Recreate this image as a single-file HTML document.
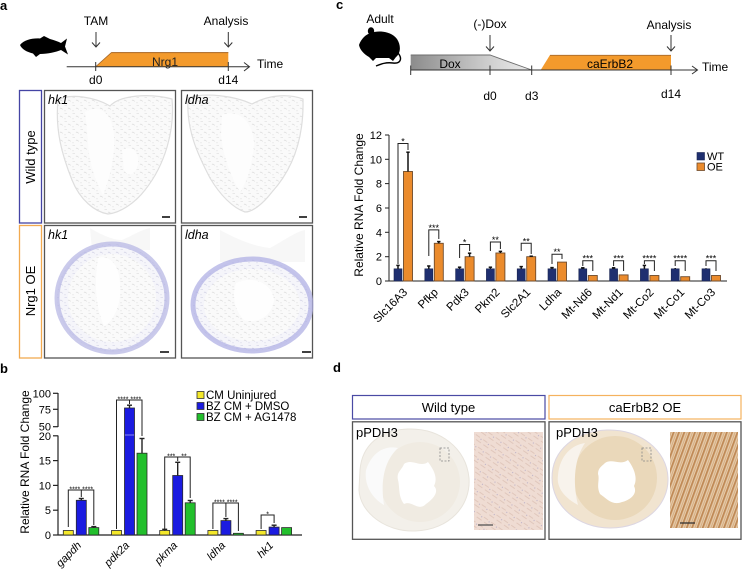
<!DOCTYPE html>
<html><head><meta charset="utf-8"><style>
html,body{margin:0;padding:0;background:#fff;}
svg{display:block;}
text{font-family:"Liberation Sans",Arial,sans-serif;}
</style></head><body>
<svg width="742" height="573" viewBox="0 0 742 573" xmlns="http://www.w3.org/2000/svg">
<defs>
<pattern id="tex" width="8" height="8" patternUnits="userSpaceOnUse">
<rect width="8" height="8" fill="#fafafa"/>
<path d="M0.5,1.5 h2.5 M4,4.5 c1,-1 2,0 2.5,1 M1,6 v1.2" stroke="#d6d6d6" stroke-width="0.6" fill="none"/>
</pattern>
<pattern id="texp" width="8" height="8" patternUnits="userSpaceOnUse">
<rect width="8" height="8" fill="#f5f5fa"/>
<path d="M0.5,1.5 h2.5 M4,4.5 c1,-1 2,0 2.5,1 M1,6 v1.2" stroke="#cbcbe0" stroke-width="0.6" fill="none"/>
</pattern>
<pattern id="pink" width="9" height="9" patternUnits="userSpaceOnUse" patternTransform="rotate(35)">
<rect width="9" height="9" fill="#efdcd3"/>
<path d="M0,2 h5 M3,6 h6" stroke="#dcc0b5" stroke-width="0.8"/>
<circle cx="7" cy="3" r="0.6" fill="#bbb0c8"/>
</pattern>
<pattern id="brown" width="5" height="10" patternUnits="userSpaceOnUse" patternTransform="rotate(20)">
<rect width="5" height="10" fill="#e6cbab"/>
<rect x="0" width="1.8" height="10" fill="#bf8955"/>
<rect x="3.2" width="0.8" height="10" fill="#d3a878"/>
</pattern>
<linearGradient id="doxg" x1="0" x2="1" y1="0" y2="0">
<stop offset="0" stop-color="#8c8c8c"/><stop offset="0.65" stop-color="#cfcfcf"/><stop offset="1" stop-color="#ededed"/>
</linearGradient>
</defs>

<!-- ================= Panel a ================= -->
<text x="0" y="10" font-size="13" font-weight="bold">a</text>
<path d="M20,45 C24,40 32,38 40,38.5 L44,36 L50,39 C54,40 58,41.5 61,43 L67,38.5 L65,46.5 L68,54.5 L61,50 C56,52 48,54 40,54 L36,57 L33,53.5 C27,52 22,49.5 20,45 Z" fill="#000"/>
<polygon points="95.7,66.7 111.7,52.3 228.3,52.3 228.3,66.7" fill="#f39a2c"/>
<line x1="111.7" y1="52.6" x2="228.3" y2="52.6" stroke="#a8692a" stroke-width="1"/>
<line x1="111.7" y1="52.3" x2="95.7" y2="66.7" stroke="#a8692a" stroke-width="0.8"/>
<text x="165" y="66" font-size="12" text-anchor="middle" fill="#222">Nrg1</text>
<line x1="66.7" y1="66.7" x2="249" y2="66.7" stroke="#333" stroke-width="1"/>
<polyline points="244,62.5 249.5,66.7 244,71" fill="none" stroke="#333" stroke-width="1"/>
<line x1="95.7" y1="62" x2="95.7" y2="71" stroke="#333" stroke-width="1"/>
<line x1="228.3" y1="62" x2="228.3" y2="71" stroke="#333" stroke-width="1"/>
<text x="257" y="68" font-size="12">Time</text>
<text x="95.7" y="84" font-size="12" text-anchor="middle">d0</text>
<text x="228.3" y="84" font-size="12" text-anchor="middle">d14</text>
<text x="96" y="25" font-size="12" text-anchor="middle">TAM</text>
<text x="226" y="25" font-size="12" text-anchor="middle">Analysis</text>
<g stroke="#333" stroke-width="1" fill="none">
<line x1="96" y1="32" x2="96" y2="47"/><polyline points="92,42.5 96,47 100,42.5"/>
<line x1="228.3" y1="32" x2="228.3" y2="47"/><polyline points="224.3,42.5 228.3,47 232.3,42.5"/>
</g>

<rect x="19.5" y="90.5" width="22" height="132.5" fill="#fff" stroke="#4444a4" stroke-width="1.3"/>
<text transform="translate(35,157) rotate(-90)" font-size="13" text-anchor="middle">Wild type</text>
<rect x="19.5" y="225.5" width="22" height="132.5" fill="#fff" stroke="#f2aa50" stroke-width="1.3"/>
<text transform="translate(35,291) rotate(-90)" font-size="13" text-anchor="middle">Nrg1 OE</text>

<rect x="44.5" y="90.5" width="131" height="132.5" fill="#fff" stroke="#555" stroke-width="1.3"/>
<rect x="181.5" y="90.5" width="131" height="132.5" fill="#fff" stroke="#555" stroke-width="1.3"/>
<rect x="44.5" y="225.5" width="131" height="132.5" fill="#fff" stroke="#555" stroke-width="1.3"/>
<rect x="181.5" y="225.5" width="131" height="132.5" fill="#fff" stroke="#555" stroke-width="1.3"/>

<!-- WT hk1 heart -->
<path d="M58,100 C70,93 95,97 110,106 C120,95 150,93 172,99 C175,130 165,165 145,190 C135,203 120,213 108,214 C95,212 80,200 72,180 C62,155 55,130 58,100 Z" fill="url(#tex)" stroke="#dedede" stroke-width="1.2"/>
<path d="M85,112 C98,104 110,112 113,128 C117,150 110,178 103,195 C95,180 88,160 88,140 Z" fill="#fdfdfd"/>
<path d="M122,150 C130,145 140,150 138,165 C135,175 128,178 124,170 Z" fill="#fdfdfd"/>
<!-- WT ldha heart -->
<path d="M188,98 C205,92 235,96 252,104 C270,94 290,94 303,99 C304,140 292,170 272,192 C262,205 252,212 245,212 C233,208 220,195 210,178 C198,155 186,130 188,98 Z" fill="url(#tex)" stroke="#dedede" stroke-width="1.2"/>
<path d="M222,115 C238,108 254,122 254,145 C252,165 247,182 240,192 C230,175 223,155 221,135 Z" fill="#fdfdfd"/>
<!-- OE hk1 -->
<path d="M90,228 C100,234 112,240 122,240 C132,236 140,230 150,228 L150,250 L92,250 Z" fill="#f7f7f7"/>
<ellipse cx="112" cy="298" rx="55" ry="54" fill="url(#texp)" stroke="#b4b4e2" stroke-width="5" stroke-opacity="0.7"/>
<ellipse cx="112" cy="298" rx="44" ry="44" fill="url(#tex)"/>
<path d="M98,258 C110,254 120,266 120,285 C122,302 114,322 104,326 C96,308 94,285 98,258 Z" fill="#fefefe"/>
<!-- OE ldha -->
<path d="M220,230 C235,238 252,246 270,248 C285,240 295,232 305,230 L305,262 L220,262 Z" fill="#f7f7f7"/>
<ellipse cx="252" cy="305" rx="59" ry="46" fill="url(#texp)" stroke="#b0b0e4" stroke-width="5" stroke-opacity="0.75"/>
<ellipse cx="252" cy="305" rx="48" ry="36" fill="url(#tex)"/>
<path d="M236,283 C253,275 272,283 274,300 C272,316 258,324 244,320 C234,310 232,294 236,283 Z" fill="#fefefe"/>

<text x="48" y="104" font-size="12.5" font-style="italic">hk1</text>
<text x="185" y="104" font-size="12.5" font-style="italic">ldha</text>
<text x="48" y="239" font-size="12.5" font-style="italic">hk1</text>
<text x="185" y="239" font-size="12.5" font-style="italic">ldha</text>
<g stroke="#111" stroke-width="1.6">
<line x1="162" y1="217" x2="170" y2="217"/>
<line x1="299" y1="217" x2="307" y2="217"/>
<line x1="160" y1="352" x2="169" y2="352"/>
<line x1="302" y1="352" x2="311" y2="352"/>
</g>

<!-- ================= Panel b ================= -->
<text x="0" y="373" font-size="13" font-weight="bold">b</text>
<text transform="translate(29,462) rotate(-90)" font-size="12" text-anchor="middle">Relative RNA Fold Change</text>
<g stroke="#222" stroke-width="1.2" fill="none">
<line x1="58" y1="393" x2="58" y2="427"/>
<line x1="58" y1="435.5" x2="58" y2="535"/>
<line x1="58" y1="535" x2="302" y2="535"/>
<line x1="53" y1="393.3" x2="58" y2="393.3"/>
<line x1="53" y1="409.3" x2="58" y2="409.3"/>
<line x1="53" y1="426.7" x2="58" y2="426.7"/>
<line x1="53" y1="435.8" x2="58" y2="435.8"/>
<line x1="53" y1="460.6" x2="58" y2="460.6"/>
<line x1="53" y1="485.4" x2="58" y2="485.4"/>
<line x1="53" y1="510.2" x2="58" y2="510.2"/>
<line x1="53" y1="535" x2="58" y2="535"/>
</g>
<g font-size="11" text-anchor="end">
<text x="51" y="397.3">100</text>
<text x="51" y="413.3">75</text>
<text x="51" y="430.7">50</text>
<text x="51" y="439.8">20</text>
<text x="51" y="464.6">15</text>
<text x="51" y="489.4">10</text>
<text x="51" y="514.2">5</text>
<text x="51" y="539">0</text>
</g>
<g stroke="#2a2a2a" stroke-width="0.8">
<rect x="63.3" y="530.5" width="10" height="4.5" fill="#f4e82a"/>
<rect x="76.3" y="500.3" width="10" height="34.7" fill="#1b1be0"/>
<rect x="88.8" y="527.6" width="10" height="7.4" fill="#22bf2c"/>
<rect x="111.5" y="530.5" width="10" height="4.5" fill="#f4e82a"/>
<rect x="124.5" y="408" width="10" height="127" fill="#1b1be0"/>
<rect x="137" y="453.2" width="10" height="81.8" fill="#22bf2c"/>
<rect x="159.7" y="530.5" width="10" height="4.5" fill="#f4e82a"/>
<rect x="172.7" y="475.5" width="10" height="59.5" fill="#1b1be0"/>
<rect x="185.2" y="502.8" width="10" height="32.2" fill="#22bf2c"/>
<rect x="207.9" y="530.5" width="10" height="4.5" fill="#f4e82a"/>
<rect x="220.9" y="520.6" width="10" height="14.4" fill="#1b1be0"/>
<rect x="233.4" y="533.3" width="10" height="1.7" fill="#22bf2c"/>
<rect x="256.1" y="530.5" width="10" height="4.5" fill="#f4e82a"/>
<rect x="269.1" y="527.1" width="10" height="7.9" fill="#1b1be0"/>
<rect x="281.6" y="527.6" width="10" height="7.4" fill="#22bf2c"/>
</g>
<line x1="124.9" y1="435" x2="134.1" y2="435" stroke="#8a8af0" stroke-width="1"/>
<g stroke="#222" stroke-width="1.4">
<line x1="81.3" y1="500.3" x2="81.3" y2="498.3"/><line x1="78.8" y1="498.5" x2="83.8" y2="498.5"/>
<line x1="93.8" y1="527.6" x2="93.8" y2="526.5"/><line x1="91.3" y1="526.6" x2="96.3" y2="526.6"/>
<line x1="129.5" y1="408" x2="129.5" y2="405"/><line x1="127" y1="405.2" x2="132" y2="405.2"/>
<line x1="142" y1="453.2" x2="142" y2="438.3"/><line x1="139.5" y1="438.5" x2="144.5" y2="438.5"/>
<line x1="164.7" y1="530.5" x2="164.7" y2="529.2"/><line x1="162.2" y1="529.3" x2="167.2" y2="529.3"/>
<line x1="177.7" y1="475.5" x2="177.7" y2="462.1"/><line x1="175.2" y1="462.3" x2="180.2" y2="462.3"/>
<line x1="190.2" y1="502.8" x2="190.2" y2="500.3"/><line x1="187.7" y1="500.5" x2="192.7" y2="500.5"/>
<line x1="225.9" y1="520.6" x2="225.9" y2="518.4"/><line x1="223.4" y1="518.6" x2="228.4" y2="518.6"/>
<line x1="274.1" y1="527.1" x2="274.1" y2="525"/><line x1="271.6" y1="525.2" x2="276.6" y2="525.2"/>
</g>
<g stroke="#222" stroke-width="1" fill="none">
<path d="M68.3,527 V490 H93.8 V525 M81.3,490 V497"/>
<path d="M116.5,529 V400 H142 V436 M129.5,400 V404"/>
<path d="M164.7,529 V457 H190.2 V498 M177.7,457 V461"/>
<path d="M212.9,529 V503 H238.4 V531 M225.9,503 V517"/>
<path d="M261.1,529 V515 H274.1 V523"/>
</g>
<g font-size="7" text-anchor="middle">
<text x="74.8" y="491.5">****</text><text x="87.6" y="491.5">****</text>
<text x="123" y="401.5">****</text><text x="135.8" y="401.5">****</text>
<text x="171.2" y="458.5">***</text><text x="184" y="458.5">**</text>
<text x="219.4" y="504.5">****</text><text x="232.2" y="504.5">****</text>
<text x="267.6" y="516.5">*</text>
</g>
<g font-size="11" font-style="italic" text-anchor="end">
<text transform="translate(82,546) rotate(-45)">gapdh</text>
<text transform="translate(130,546) rotate(-45)">pdk2a</text>
<text transform="translate(178,546) rotate(-45)">pkma</text>
<text transform="translate(226,546) rotate(-45)">ldha</text>
<text transform="translate(274,546) rotate(-45)">hk1</text>
</g>
<g stroke="#333" stroke-width="0.8">
<rect x="197" y="391.5" width="7" height="7" fill="#f4e82a"/>
<rect x="197" y="402.5" width="7" height="7" fill="#1b1be0"/>
<rect x="197" y="413.5" width="7" height="7" fill="#22bf2c"/>
</g>
<g font-size="11.5">
<text x="206" y="399">CM Uninjured</text>
<text x="206" y="410">BZ CM + DMSO</text>
<text x="206" y="421">BZ CM + AG1478</text>
</g>

<!-- ================= Panel c ================= -->
<text x="336" y="9" font-size="13" font-weight="bold">c</text>
<text x="380" y="23" font-size="12" text-anchor="middle">Adult</text>
<path d="M359,45 C361,39 366,34 371,33 C378,30 391,31 397,39 C401,45 401,53 396,57 L393,61 L389,58 L376,58 L373,61 L369,57 C364,54 360,50 359,45 Z" fill="#000"/>
<ellipse cx="371" cy="31" rx="3.2" ry="3.8" fill="#000"/>
<path d="M397,52 C403,58 401,64 393,63 C386,62 381,64 376,66" fill="none" stroke="#000" stroke-width="1.4"/>
<polygon points="410.7,55 490,55 531.7,70 410.7,70" fill="url(#doxg)"/>
<polyline points="410.7,55 490,55 531.7,70" fill="none" stroke="#6e6e6e" stroke-width="0.9"/>
<text x="450" y="68" font-size="12" text-anchor="middle">Dox</text>
<polygon points="540.7,70 550,55 671,55 671,70" fill="#f39a2c"/>
<line x1="550" y1="55.3" x2="671" y2="55.3" stroke="#a8692a" stroke-width="0.9"/>
<text x="610" y="68" font-size="12" text-anchor="middle">caErbB2</text>
<line x1="410.7" y1="70" x2="697" y2="70" stroke="#333" stroke-width="1"/>
<polyline points="692,66 697.5,70 692,74" fill="none" stroke="#333" stroke-width="1"/>
<g stroke="#333" stroke-width="1">
<line x1="410.7" y1="65.5" x2="410.7" y2="75"/>
<line x1="490" y1="65.5" x2="490" y2="75"/>
<line x1="531.7" y1="65.5" x2="531.7" y2="75"/>
<line x1="671" y1="65.5" x2="671" y2="75"/>
</g>
<text x="702" y="71" font-size="12">Time</text>
<text x="490" y="100" font-size="12" text-anchor="middle">d0</text>
<text x="531.7" y="100" font-size="12" text-anchor="middle">d3</text>
<text x="671" y="98" font-size="12" text-anchor="middle">d14</text>
<text x="490" y="28" font-size="12" text-anchor="middle">(-)Dox</text>
<text x="669" y="29" font-size="12" text-anchor="middle">Analysis</text>
<g stroke="#333" stroke-width="1" fill="none">
<line x1="490" y1="35" x2="490" y2="51"/><polyline points="486,46.5 490,51 494,46.5"/>
<line x1="671" y1="35" x2="671" y2="51"/><polyline points="667,46.5 671,51 675,46.5"/>
</g>

<text transform="translate(363,205) rotate(-90)" font-size="12" text-anchor="middle">Relative RNA Fold Change</text>
<g stroke="#222" stroke-width="1" fill="none">
<line x1="389" y1="135" x2="389" y2="281"/>
<line x1="389" y1="281" x2="727" y2="281"/>
<line x1="385" y1="135" x2="389" y2="135"/>
<line x1="385" y1="159.3" x2="389" y2="159.3"/>
<line x1="385" y1="183.6" x2="389" y2="183.6"/>
<line x1="385" y1="208" x2="389" y2="208"/>
<line x1="385" y1="232.3" x2="389" y2="232.3"/>
<line x1="385" y1="256.7" x2="389" y2="256.7"/>
<line x1="385" y1="281" x2="389" y2="281"/>
</g>
<g font-size="11" text-anchor="end">
<text x="382" y="139">12</text>
<text x="382" y="163.3">10</text>
<text x="382" y="187.6">8</text>
<text x="382" y="212">6</text>
<text x="382" y="236.3">4</text>
<text x="382" y="260.7">2</text>
<text x="382" y="285">0</text>
</g>
<g fill="#1f2f70" stroke="#1a2550" stroke-width="0.6">
<rect x="394" y="268.8" width="8" height="12.2"/>
<rect x="424.8" y="268.8" width="8" height="12.2"/>
<rect x="455.6" y="268.8" width="8" height="12.2"/>
<rect x="486.4" y="268.8" width="8" height="12.2"/>
<rect x="517.2" y="268.8" width="8" height="12.2"/>
<rect x="548" y="268.8" width="8" height="12.2"/>
<rect x="578.8" y="268.8" width="8" height="12.2"/>
<rect x="609.6" y="268.8" width="8" height="12.2"/>
<rect x="640.4" y="268.8" width="8" height="12.2"/>
<rect x="671.2" y="268.8" width="8" height="12.2"/>
<rect x="702" y="268.8" width="8" height="12.2"/>
</g>
<g fill="#eb8b2c" stroke="#6e4a2c" stroke-width="0.9">
<rect x="403.5" y="171.5" width="9" height="109.5"/>
<rect x="434.3" y="243.3" width="9" height="37.7"/>
<rect x="465.1" y="256.7" width="9" height="24.3"/>
<rect x="495.9" y="253" width="9" height="28"/>
<rect x="526.7" y="256.7" width="9" height="24.3"/>
<rect x="557.5" y="262.1" width="9" height="18.9"/>
<rect x="588.3" y="275.5" width="9" height="5.5"/>
<rect x="619.1" y="274.9" width="9" height="6.1"/>
<rect x="649.9" y="275.5" width="9" height="5.5"/>
<rect x="680.7" y="276.7" width="9" height="4.3"/>
<rect x="711.5" y="275.5" width="9" height="5.5"/>
</g>
<g stroke="#111" stroke-width="1.5">
<line x1="398" y1="268.8" x2="398" y2="265.2"/><line x1="396.3" y1="265.4" x2="399.7" y2="265.4"/>
<line x1="408" y1="171.5" x2="408" y2="152"/><line x1="406.3" y1="152.2" x2="409.7" y2="152.2"/>
<line x1="428.8" y1="268.8" x2="428.8" y2="265.8"/><line x1="427.1" y1="266" x2="430.5" y2="266"/>
<line x1="438.8" y1="243.3" x2="438.8" y2="241.4"/><line x1="437.1" y1="241.6" x2="440.5" y2="241.6"/>
<line x1="459.6" y1="268.8" x2="459.6" y2="267"/><line x1="457.9" y1="267.2" x2="461.3" y2="267.2"/>
<line x1="469.6" y1="256.7" x2="469.6" y2="253"/><line x1="467.9" y1="253.2" x2="471.3" y2="253.2"/>
<line x1="490.4" y1="268.8" x2="490.4" y2="267"/><line x1="488.7" y1="267.2" x2="492.1" y2="267.2"/>
<line x1="500.4" y1="253" x2="500.4" y2="251.2"/><line x1="498.7" y1="251.4" x2="502.1" y2="251.4"/>
<line x1="521.2" y1="268.8" x2="521.2" y2="266.4"/><line x1="519.5" y1="266.6" x2="522.9" y2="266.6"/>
<line x1="531.2" y1="256.7" x2="531.2" y2="256"/><line x1="529.5" y1="256.2" x2="532.9" y2="256.2"/>
<line x1="552" y1="268.8" x2="552" y2="267.4"/><line x1="550.3" y1="267.6" x2="553.7" y2="267.6"/>
<line x1="582.8" y1="268.8" x2="582.8" y2="267.6"/><line x1="581.1" y1="267.8" x2="584.5" y2="267.8"/>
<line x1="613.6" y1="268.8" x2="613.6" y2="267.6"/><line x1="611.9" y1="267.8" x2="615.3" y2="267.8"/>
<line x1="644.4" y1="268.8" x2="644.4" y2="265.2"/><line x1="642.7" y1="265.4" x2="646.1" y2="265.4"/>
<line x1="675.2" y1="268.8" x2="675.2" y2="268"/>
<line x1="706" y1="268.8" x2="706" y2="268.2"/>
</g>
<g stroke="#222" stroke-width="1" fill="none">
<path d="M398,264 V143.5 H408 V150"/>
<path d="M428.8,256 V229.9 H438.8 V239"/>
<path d="M459.6,258 V244.5 H469.6 V251"/>
<path d="M490.4,251 V242 H500.4 V249"/>
<path d="M521.2,251 V243.3 H531.2 V254"/>
<path d="M552,264 V254.2 H562 V259"/>
<path d="M582.8,266 V260.7 H592.8 V271"/>
<path d="M613.6,266 V260.7 H623.6 V271"/>
<path d="M644.4,264 V260.7 H654.4 V271"/>
<path d="M675.2,266 V260.7 H685.2 V271"/>
<path d="M706,266 V260.7 H716 V271"/>
</g>
<g font-size="9" text-anchor="middle">
<text x="403" y="144.5">*</text>
<text x="433.8" y="231">***</text>
<text x="464.6" y="245.5">*</text>
<text x="495.4" y="243">**</text>
<text x="526.2" y="244.3">**</text>
<text x="557" y="255.2">**</text>
<text x="587.8" y="261.7">***</text>
<text x="618.6" y="261.7">***</text>
<text x="649.4" y="261.7">****</text>
<text x="680.2" y="261.7">****</text>
<text x="711" y="261.7">***</text>
</g>
<g font-size="11.5" text-anchor="end">
<text transform="translate(408,293) rotate(-45)">Slc16A3</text>
<text transform="translate(438.8,293) rotate(-45)">Pfkp</text>
<text transform="translate(469.6,293) rotate(-45)">Pdk3</text>
<text transform="translate(500.4,293) rotate(-45)">Pkm2</text>
<text transform="translate(531.2,293) rotate(-45)">Slc2A1</text>
<text transform="translate(562,293) rotate(-45)">Ldha</text>
<text transform="translate(592.8,293) rotate(-45)">Mt-Nd6</text>
<text transform="translate(623.6,293) rotate(-45)">Mt-Nd1</text>
<text transform="translate(654.4,293) rotate(-45)">Mt-Co2</text>
<text transform="translate(685.2,293) rotate(-45)">Mt-Co1</text>
<text transform="translate(716,293) rotate(-45)">Mt-Co3</text>
</g>
<rect x="697" y="152.5" width="7.5" height="7.5" fill="#1f2f70" stroke="#1a2550" stroke-width="0.6"/>
<rect x="697" y="163" width="7.5" height="7.5" fill="#eb8b2c" stroke="#6e4a2c" stroke-width="0.8"/>
<text x="707" y="160" font-size="11">WT</text>
<text x="707" y="170.5" font-size="11">OE</text>

<!-- ================= Panel d ================= -->
<text x="333" y="372" font-size="13" font-weight="bold">d</text>
<rect x="352.5" y="395.5" width="192.5" height="23.5" fill="#fff" stroke="#4a4aa4" stroke-width="1.2"/>
<text x="448.5" y="412" font-size="13" text-anchor="middle">Wild type</text>
<rect x="549" y="395.5" width="192" height="23.5" fill="#fff" stroke="#f5b25e" stroke-width="1.2"/>
<text x="645" y="412" font-size="13" text-anchor="middle">caErbB2 OE</text>
<rect x="352.5" y="421.8" width="192.5" height="117.5" fill="#fff" stroke="#555" stroke-width="1.3"/>
<rect x="549" y="421.8" width="192" height="117.5" fill="#fff" stroke="#555" stroke-width="1.3"/>

<path d="M360,470 C362,445 380,430 408,429 C440,428 466,448 469,478 C471,505 450,530 415,531 C385,532 360,512 359,490 Z" fill="#f3f0ea" stroke="#e8e4dc" stroke-width="1"/>
<ellipse cx="420" cy="482" rx="40" ry="40" fill="#f0ebe2"/>
<path d="M404,464 C412,458 420,468 428,462 C434,470 438,478 434,486 C440,492 432,500 426,504 C418,512 412,500 404,504 C398,496 400,488 398,480 C396,472 402,470 404,464 Z" fill="#fff"/>
<path d="M366,470 C372,452 385,445 398,448 C385,460 380,480 384,505 C372,498 364,485 366,470 Z" fill="#fafafa"/>
<rect x="440" y="448" width="9" height="13" fill="none" stroke="#888" stroke-width="0.8" stroke-dasharray="2,1.5"/>
<text x="356" y="437" font-size="13">pPDH3</text>
<rect x="474" y="432" width="69" height="98" fill="url(#pink)"/>
<line x1="478" y1="525" x2="493" y2="525" stroke="#555" stroke-width="1.3"/>

<path d="M552,478 C552,450 575,431 607,430 C640,429 667,450 668,478 C669,505 645,528 610,528 C578,528 552,506 552,478 Z" fill="#f1e4d0" stroke="#dcd6e2" stroke-width="1"/>
<ellipse cx="615" cy="478" rx="42" ry="42" fill="#ead8ba"/>
<path d="M605,463 C612,458 620,466 628,460 C634,468 638,478 634,486 C638,494 630,500 622,502 C612,506 606,498 600,494 C596,486 600,480 598,474 C598,468 602,466 605,463 Z" fill="#fff"/>
<path d="M558,475 C560,455 572,445 585,443 C575,458 572,480 578,505 C565,498 556,488 558,475 Z" fill="#f8f3ec"/>
<rect x="642" y="448" width="9" height="13" fill="none" stroke="#888" stroke-width="0.8" stroke-dasharray="2,1.5"/>
<text x="556" y="437" font-size="13">pPDH3</text>
<rect x="670" y="432" width="68" height="96" fill="url(#brown)"/>
<line x1="680" y1="523" x2="695" y2="523" stroke="#333" stroke-width="1.3"/>
</svg>
</body></html>
